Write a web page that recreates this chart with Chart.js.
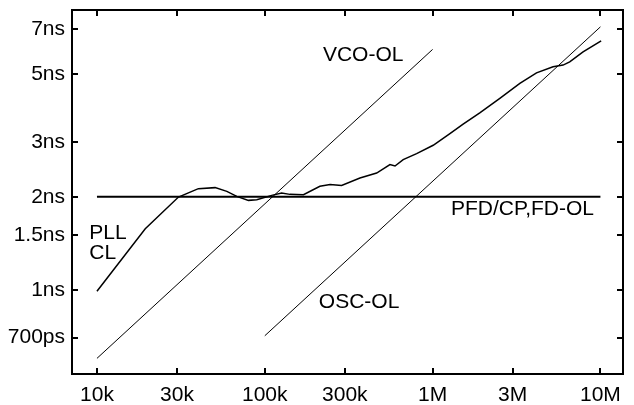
<!DOCTYPE html>
<html>
<head>
<meta charset="utf-8">
<script src="https://cdn.jsdelivr.net/npm/chart.js@4/dist/chart.umd.min.js"></script>
<style>
  html, body { margin: 0; padding: 0; background: #fff; }
  #wrap { width: 634px; height: 405px; position: relative; }
</style>
</head>
<body>
<div id="wrap"><canvas id="chartBase"></canvas></div>
<script>
// ticks
const xTicks = [1e4, 3e4, 1e5, 3e5, 1e6, 3e6, 1e7];
const xTickLabels = ["10k", "30k", "100k", "300k", "1M", "3M", "10M"];
const yTicks = [0.7, 1, 1.5, 2, 3, 5, 7];
const yTickLabels = ["700ps", "1ns", "1.5ns", "2ns", "3ns", "5ns", "7ns"];

// PFD/CP,FD-OL (flat)
const pfdFreq = [1e4, 1e7];
const pfdJitter = [2, 2];

// VCO-OL
const vcoFreq = [1e4, 1e6];
const vcoJitter = [0.6, 6.0];

// OSC-OL
const oscFreq = [1e5, 1e7];
const oscJitter = [0.71, 7.1];

// PLL closed loop (jitter in ns)
const pllFreq = [
  10000, 19400, 30600, 40200, 50600, 59400, 68100, 79900, 89600, 110000,
  126000, 141000, 170000, 213000, 245000, 287000, 369000, 464000, 557000, 597000,
  668000, 803000, 1008000, 1268000, 1520000, 1910000, 2515000, 3310000, 4160000, 5220000,
  5990000, 6560000, 7880000, 10100000
];
const pllJitter = [
  0.99, 1.577, 1.997, 2.126, 2.142, 2.083, 2.007, 1.948, 1.958, 2.022,
  2.057, 2.037, 2.032, 2.163, 2.194, 2.178, 2.301, 2.388, 2.543, 2.516,
  2.64, 2.761, 2.937, 3.205, 3.436, 3.738, 4.163, 4.656, 5.04, 5.27,
  5.34, 5.47, 5.89, 6.40
];

// text labels on the plot
const noteTexts = ["VCO-OL", "PFD/CP,FD-OL", "OSC-OL", "PLL", "CL"];
const noteFreq = [222000, 1285000, 210000, 9000, 9000];
const noteJitter = [5.75, 1.822, 0.91, 1.522, 1.311];

const FONT = "'Liberation Sans', Arial, Helvetica, sans-serif";

function pares(xs, ys) {
  const out = [];
  for (let i = 0; i < xs.length; i++) out.push({ x: xs[i], y: ys[i] });
  return out;
}

// marco con marcas hacia dentro en los 4 lados
const marcoPlugin = {
  id: "marco",
  afterDraw: function (chart) {
    const ctx = chart.ctx;
    const a = chart.chartArea;
    const sx = chart.scales.x;
    const sy = chart.scales.y;
    ctx.save();
    ctx.strokeStyle = "#000";
    ctx.lineWidth = 2;
    ctx.strokeRect(a.left, a.top, a.right - a.left, a.bottom - a.top);
    ctx.beginPath();
    for (let i = 0; i < xTicks.length; i++) {
      const px = Math.round(sx.getPixelForValue(xTicks[i]));
      ctx.moveTo(px, a.bottom); ctx.lineTo(px, a.bottom - 6);
      ctx.moveTo(px, a.top); ctx.lineTo(px, a.top + 6);
    }
    for (let i = 0; i < yTicks.length; i++) {
      const py = Math.round(sy.getPixelForValue(yTicks[i]));
      ctx.moveTo(a.left, py); ctx.lineTo(a.left + 6, py);
      ctx.moveTo(a.right, py); ctx.lineTo(a.right - 6, py);
    }
    ctx.stroke();

    ctx.fillStyle = "#000";
    ctx.font = "21px " + FONT;
    ctx.textAlign = "left";
    ctx.textBaseline = "middle";
    for (let i = 0; i < noteTexts.length; i++) {
      ctx.fillText(noteTexts[i], sx.getPixelForValue(noteFreq[i]), sy.getPixelForValue(noteJitter[i]));
    }
    ctx.restore();
  }
};

function pintarChart() {
  const ctx = document.getElementById("chartBase").getContext("2d");
  const linea = function (data, w) {
    return {
      data: data,
      borderColor: "#000",
      borderWidth: w,
      pointRadius: 0,
      tension: 0,
      fill: false
    };
  };

  new Chart(ctx, {
    type: "line",
    data: {
      datasets: [
        linea(pares(pfdFreq, pfdJitter), 2),
        linea(pares(vcoFreq, vcoJitter), 1),
        linea(pares(oscFreq, oscJitter), 1),
        linea(pares(pllFreq, pllJitter), 1.5)
      ]
    },
    options: {
      responsive: true,
      maintainAspectRatio: false,
      animation: false,
      layout: { padding: { top: 10, right: 11, bottom: 0, left: 0 } },
      plugins: { legend: { display: false }, tooltip: { enabled: false } },
      scales: {
        x: {
          type: "logarithmic",
          min: 7100,
          max: 1.363e7,
          grid: { display: false, drawTicks: false },
          border: { display: false },
          afterBuildTicks: function (s) { s.ticks = xTicks.map(function (v) { return { value: v }; }); },
          afterFit: function (s) { s.height = 31; s.paddingLeft = 0; s.paddingRight = 0; },
          ticks: {
            autoSkip: false,
            maxRotation: 0,
            padding: 9,
            color: "#000",
            font: { family: FONT, size: 21 },
            callback: function (v, i) { return xTickLabels[i]; }
          }
        },
        y: {
          type: "logarithmic",
          min: 0.534,
          max: 8.05,
          grid: { display: false, drawTicks: false },
          border: { display: false },
          afterBuildTicks: function (s) { s.ticks = yTicks.map(function (v) { return { value: v }; }); },
          afterFit: function (s) { s.width = 72; s.paddingTop = 0; s.paddingBottom = 0; },
          ticks: {
            autoSkip: false,
            padding: 7,
            color: "#000",
            font: { family: FONT, size: 21 },
            callback: function (v, i) { return yTickLabels[i]; }
          }
        }
      }
    },
    plugins: [marcoPlugin]
  });
}

pintarChart();
</script>
</body>
</html>
